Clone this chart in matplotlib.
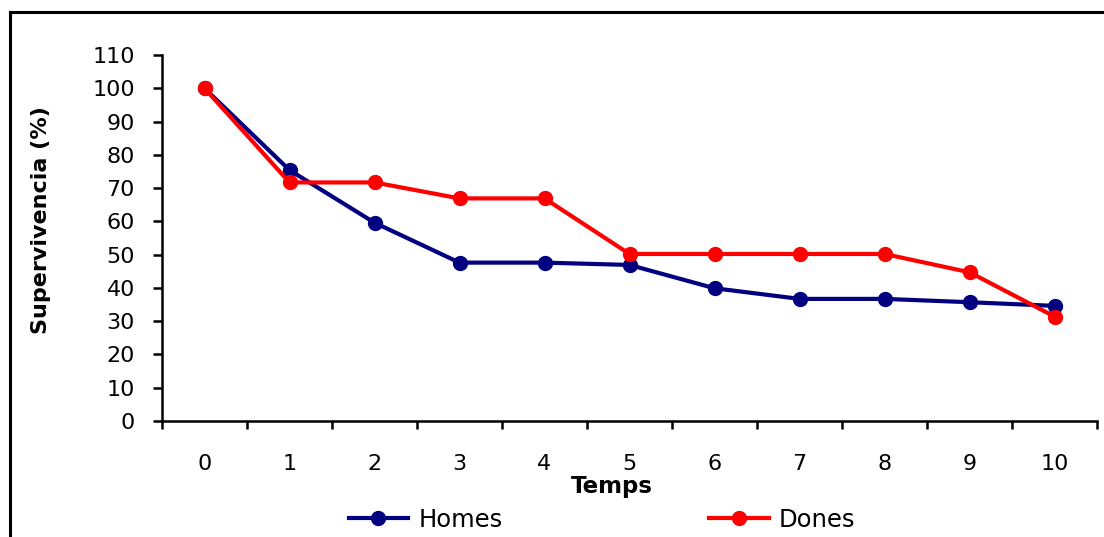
import matplotlib
matplotlib.use("Agg")
import matplotlib.pyplot as plt
from matplotlib.lines import Line2D
import numpy as np

plt.rcParams['font.family'] = ['DejaVu Sans']

temps = [0, 1, 2, 3, 4, 5, 6, 7, 8, 9, 10]
homes = [100, 75.4, 59.6, 47.6, 47.6, 46.9, 39.9, 36.7, 36.7, 35.7, 34.6]
dones = [100, 71.7, 71.7, 66.9, 66.9, 50.2, 50.2, 50.2, 50.2, 44.7, 31.4]
yticks = list(range(0, 111, 10))

W, H = 1104, 537
fig = plt.figure(figsize=(W / 100, H / 100), dpi=100)
ax = fig.add_axes([162 / W, 1 - 421 / H, (1097 - 162) / W, (421 - 55) / H])

x = np.arange(len(temps))
ax.plot(x, homes, color='#000080', lw=3, marker='o', ms=10, label='Homes', zorder=3)
ax.plot(x, dones, color='#FF0000', lw=3, marker='o', ms=10, label='Dones', zorder=4)

ax.set_xlim(-0.5, len(temps) - 0.5)
ax.set_ylim(0, 110)
ax.set_yticks(yticks)
ax.set_xticks(x)
ax.set_xticklabels([str(t) for t in temps])
ax.set_xticks(np.arange(-0.5, len(temps)), minor=True)

for s in ['top', 'right']:
    ax.spines[s].set_visible(False)
for s in ['left', 'bottom']:
    ax.spines[s].set_linewidth(1.8)

ax.tick_params(axis='y', direction='out', length=6.5, width=1.8, pad=13, labelsize=16)
ax.tick_params(axis='x', which='major', length=0, pad=24, labelsize=16)
ax.tick_params(axis='x', which='minor', direction='out', length=6, width=1.8)

ax.set_xlabel('Temps', fontsize=16.5, fontweight='bold')
ax.xaxis.set_label_coords((612 - 162) / 935, (421 - 487) / 366)
ax.xaxis.label.set_va('center')
ax.set_ylabel('Supervivencia (%)', fontsize=16, fontweight='bold')
ax.yaxis.set_label_coords((41 - 162) / 935, (421 - 220) / 366)
ax.yaxis.label.set_va('center')

leg = fig.legend(loc='center', bbox_to_anchor=(602 / W, 1 - 520 / H), ncol=2,
                 frameon=False, fontsize=17.5, handlelength=2.45, handletextpad=0.42,
                 columnspacing=8.5, borderaxespad=0)

# outer frame (top and left edges visible)
fig.add_artist(Line2D([10 / W, 10 / W], [0, 1 - 12 / H], transform=fig.transFigure,
                      color='black', lw=2.2))
fig.add_artist(Line2D([10 / W, 1], [1 - 12 / H, 1 - 12 / H], transform=fig.transFigure,
                      color='black', lw=2.2))

fig.savefig('out.png', dpi=100)
